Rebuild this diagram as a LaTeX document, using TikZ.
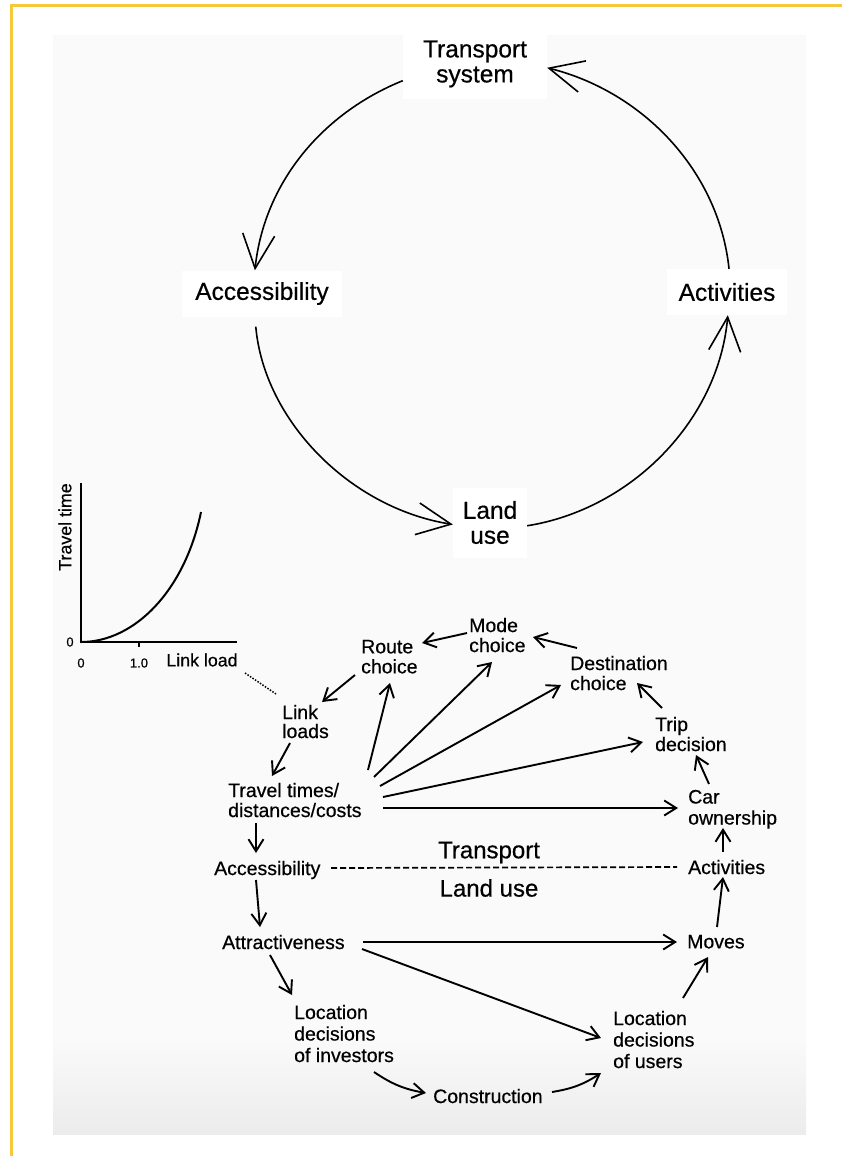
\documentclass[tikz,border=0pt]{standalone}
\usepackage{fontspec}
\setmainfont{Liberation Sans}[FakeBold=0.5]
\usetikzlibrary{arrows.meta}
\definecolor{frameY}{RGB}{246,200,58}
\definecolor{bgin}{RGB}{250,250,250}
\begin{document}
\begin{tikzpicture}[x=1pt,y=1pt,
  big/.style={font=\fontsize{24.5}{25}\selectfont, align=center, fill=white, inner sep=2pt},
  sm/.style={font=\fontsize{19.5}{20}\selectfont, align=left, anchor=north west, inner sep=0pt},
  smloc/.style={sm, font=\fontsize{19.5}{21.5}\selectfont},
  mid/.style={font=\fontsize{24}{25}\selectfont},
  gtxt/.style={font=\fontsize{17.8}{18}\selectfont, inner sep=0pt},
  gnum/.style={font=\fontsize{13}{13}\selectfont, inner sep=0pt},
  bigarr/.style={line width=1.6pt, -{Straight Barb[length=34pt,width=32pt]}, looseness=0.93},
  arr/.style={line width=1.9pt, -{Straight Barb[length=12pt,width=15pt]}},
  axis/.style={line width=2.2pt},
]
\useasboundingbox (0,0) rectangle (842,-1156);
% background
\fill[white] (0,0) rectangle (842,-1156);
\fill[bgin] (53,-35) rectangle (806,-1040);
\shade[top color=bgin, bottom color=gray!15] (53,-1040) rectangle (806,-1134);
\draw[frameY, line width=2.5pt] (10,-5.5) -- (842,-5.5);
\draw[frameY, line width=2.5pt] (11.5,-4.3) -- (11.5,-1156);

% ---------- upper cycle ----------
\node[big, minimum width=144, minimum height=70] (TS) at (475,-64) {Transport\\system};
\node[big, minimum width=160, minimum height=46] (ACC) at (262,-293.5) {Accessibility};
\node[big, minimum width=120, minimum height=46] (ACT) at (727,-292) {Activities};
\node[big, minimum width=74, minimum height=70] (LU) at (490,-522.5) {Land\\use};

\draw[bigarr] (TS.193) to[out=202,in=84] (ACC.107);
\draw[bigarr, shorten <=10pt] (ACC.253) to[out=275,in=171] (LU.183);
\draw[bigarr] (LU.355) to[out=9,in=265] (ACT.272);
\draw[bigarr] (ACT.85) to[out=96,in=346] (TS.357);

% ---------- graph ----------
\coordinate (gy) at (81,-483);
\coordinate (go) at (81,-642);
\coordinate (gx) at (237,-642);
\coordinate (gt1) at (139,-642);
\coordinate (gt2) at (139,-647);
\coordinate (gc) at (201,-512);
\coordinate (gd) at (245,-673);
\draw[axis, line join=miter] (gy) -- (go) -- (gx);
\draw[line width=1.6pt] (gt1) -- (gt2);
\draw[line width=2pt] (go) .. controls (135,-642) and (185,-590) .. (gc);
\node[gnum] (g0l) at (70,-642) {0};
\node[gnum] (g0b) at (81,-663) {0};
\node[gnum] (g10) at (139,-663) {1.0};
\node[gtxt] (gxl) at (202,-660) {Link load};
\node[gtxt, rotate=90] (gyl) at (65,-527) {Travel time};

% ---------- lower diagram ----------
\node[sm] (RC) at (361,-639.7) {Route\\choice};
\node[sm] (MC) at (469,-617.7) {Mode\\choice};
\node[sm] (DC) at (570,-655.7) {Destination\\choice};
\node[sm] (TD) at (655,-716.7) {Trip\\decision};
\node[sm, font=\fontsize{19.5}{21}\selectfont] (CO) at (688,-789.7) {Car\\ownership};
\node[sm] (ACT2) at (688,-859.7) {Activities};
\node[sm, font=\fontsize{19.5}{19}\selectfont] (LL) at (282,-704.7) {Link\\loads};
\node[sm] (TT) at (228,-782.7) {Travel times/\\distances/costs};
\node[sm] (ACC2) at (214,-860.7) {Accessibility};
\node[sm] (ATT) at (222,-934.7) {Attractiveness};
\node[sm] (MV) at (687,-934.7) {Moves};
\node[smloc] (LI) at (294,-1004.7) {Location\\decisions\\of investors};
\node[smloc] (LUs) at (613,-1010.7) {Location\\decisions\\of users};
\node[sm] (CON) at (433,-1088.7) {Construction};
\node[mid] (LTR) at (489,-852.5) {Transport};
\node[mid] (LLU) at (489,-888) {Land use};

\draw[line width=1.5pt, dash pattern=on 1.5pt off 1.5pt] (gd) -- ([shift={(-6,10.7)}]LL.north west);
\draw[line width=1.7pt, dash pattern=on 6pt off 3pt] ([shift={(117,-7.3)}]ACC2.north west) -- ([shift={(-11,-7.3)}]ACT2.north west);

\draw[arr] ([shift={(-2,-15.3)}]MC.north west) -- ([shift={(61,-3.3)}]RC.north west);
\draw[arr] ([shift={(7,7.7)}]DC.north west) -- ([shift={(64,-19.3)}]MC.north west);
\draw[arr] ([shift={(-6,-35.3)}]RC.north west) -- ([shift={(40,2.7)}]LL.north west);
\draw[arr] ([shift={(8,-38.3)}]LL.north west) -- ([shift={(44,6.7)}]TT.north west);
\draw[arr] ([shift={(140,12.7)}]TT.north west) -- ([shift={(29,-43.3)}]RC.north west);
\draw[arr] ([shift={(146,5.7)}]TT.north west) -- ([shift={(23,-44.3)}]MC.north west);
\draw[arr] ([shift={(152,-3.3)}]TT.north west) -- ([shift={(-9,-29.3)}]DC.north west);
\draw[arr] ([shift={(155,-14.3)}]TT.north west) -- ([shift={(-12,-25.3)}]TD.north west);
\draw[arr] ([shift={(155,-25.3)}]TT.north west) -- ([shift={(-10,-18.3)}]CO.north west);
\draw[arr] ([shift={(7,8.7)}]TD.north west) -- ([shift={(67,-27.3)}]DC.north west);
\draw[arr] ([shift={(21,5.7)}]CO.north west) -- ([shift={(41,-38.3)}]TD.north west);
\draw[arr] ([shift={(35,7.7)}]ACT2.north west) -- ([shift={(35,-38.3)}]CO.north west);
\draw[arr] ([shift={(28,-40.3)}]TT.north west) -- ([shift={(42,7.7)}]ACC2.north west);
\draw[arr] ([shift={(42,-19.3)}]ACC2.north west) -- ([shift={(38,7.7)}]ATT.north west);
\draw[arr] ([shift={(141,-7.3)}]ATT.north west) -- ([shift={(-10,-7.3)}]MV.north west);
\draw[arr] ([shift={(140,-14.3)}]ATT.north west) -- ([shift={(-12,-27.3)}]LUs.north west);
\draw[arr] ([shift={(48,-20.3)}]ATT.north west) -- ([shift={(-2,9.7)}]LI.north west);
\draw[arr] ([shift={(70,12.7)}]LUs.north west) -- ([shift={(21,-22.3)}]MV.north west);
\draw[arr] ([shift={(30,7.7)}]MV.north west) -- ([shift={(35,-17.3)}]ACT2.north west);
\draw[arr] ([shift={(80,-67.3)}]LI.north west) to[bend right=12] ([shift={(-7,-4.3)}]CON.north west);
\draw[arr] ([shift={(119,-3.3)}]CON.north west) to[bend right=12] ([shift={(-12,-62.3)}]LUs.north west);
\end{tikzpicture}
\end{document}
